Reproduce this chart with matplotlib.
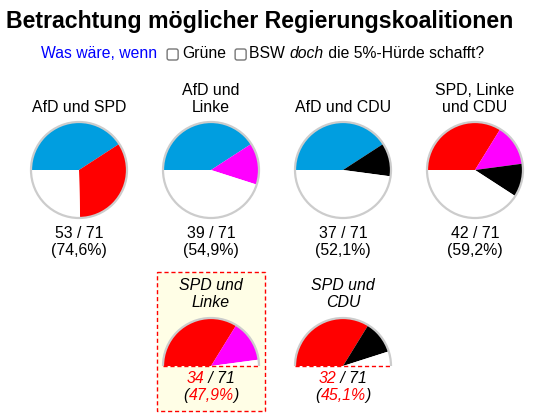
import matplotlib
matplotlib.use('Agg')
import matplotlib.pyplot as plt
from matplotlib.patches import Circle, Arc, Rectangle, FancyBboxPatch

W, H = 552, 416
TOTAL = 71

parties = ['AfD', 'SPD', 'Linke', 'CDU']
seats = [29, 24, 10, 8]
party_colors = ['#009ee0', '#ff0000', '#ff00ff', '#000000']

coalition_names = ['AfD und SPD', 'AfD und\nLinke', 'AfD und CDU', 'SPD, Linke\nund CDU',
                   'SPD und\nLinke', 'SPD und\nCDU']
coalition_members = [['AfD', 'SPD'], ['AfD', 'Linke'], ['AfD', 'CDU'], ['SPD', 'Linke', 'CDU'],
                     ['SPD', 'Linke'], ['SPD', 'CDU']]
highlighted = 'SPD und\nLinke'

plt.rcParams['font.family'] = ['Liberation Sans', 'DejaVu Sans']

fig = plt.figure(figsize=(W / 100, H / 100), dpi=100)
ax = fig.add_axes([0, 0, 1, 1])
renderer = fig.canvas.get_renderer()


def rich_text(x, y, parts, ha='center', **kw):
    # parts: list of (string, color); 1 data unit == 1 pixel
    texts = [ax.text(0, y, s, color=c, ha='left', va='baseline', **kw) for s, c in parts]
    widths = [t.get_window_extent(renderer).width for t in texts]
    total = sum(widths)
    x0 = x - total / 2 if ha == 'center' else x
    for t, w in zip(texts, widths):
        t.set_x(x0)
        x0 += w
    return x0


def checkbox(x):
    ax.add_patch(FancyBboxPatch((x, 49), 11, 11, boxstyle='round,pad=0,rounding_size=2',
                                facecolor='white', edgecolor='#767676', lw=1))
    return x + 11


# title / subtitle
ax.text(260, 28, 'Betrachtung möglicher Regierungskoalitionen', ha='center', va='baseline',
        fontsize=16.7, fontweight='bold')
fs_sub = 11.3
x = rich_text(41, 58, [('Was wäre, wenn', '#0000ff')], ha='left', fontsize=fs_sub)
x = checkbox(x + 10)
x = rich_text(x + 4, 58, [('Grüne', 'black')], ha='left', fontsize=fs_sub)
x = checkbox(x + 9)
x = rich_text(x + 3, 58, [('BSW ', 'black')], ha='left', fontsize=fs_sub)
x = rich_text(x, 58, [('doch', 'black')], ha='left', fontsize=fs_sub, style='italic')
rich_text(x, 58, [(' die 5%-Hürde schafft?', 'black')], ha='left', fontsize=fs_sub)

# layout
top_x = [79, 211, 343, 475]
bottom_x = [211, 343]
R = 48
majority = TOTAL // 2 + 1

full = []
half = []
for name, members in zip(coalition_names, coalition_members):
    n = sum(seats[parties.index(m)] for m in members)
    (full if n >= majority else half).append((name, members, n))

label_kw = dict(fontsize=11.4, ha='center', va='baseline')

for (name, members, n), cx in zip(full, top_x):
    cy = 170
    vals = [seats[parties.index(m)] for m in members] + [TOTAL - n]
    cols = [party_colors[parties.index(m)] for m in members] + ['white']
    ax.pie(vals, colors=cols, center=(cx, cy), radius=R, startangle=180, counterclock=True,
           wedgeprops=dict(linewidth=0), frame=True)
    ax.add_patch(Circle((cx, cy), R, fill=False, edgecolor='#cccccc', lw=1.6))
    lines = name.split('\n')
    for i, ln in enumerate(reversed(lines)):
        ax.text(cx, 112 - 17 * i, ln, **label_kw)
    ax.text(cx, 238, f'{n} / {TOTAL}', **label_kw)
    ax.text(cx, 255, f'({n / TOTAL * 100:.1f}%)'.replace('.', ','), **label_kw)

for (name, members, n), cx in zip(half, bottom_x):
    cy = 366
    if name == highlighted:
        ax.add_patch(Rectangle((cx - 54, 272), 108, 139, facecolor='#fffee6', edgecolor='#ff0000',
                               lw=1, ls=(0, (3, 2)), zorder=0))
    vals = [seats[parties.index(m)] for m in members] + [TOTAL / 2 - n, TOTAL / 2]
    cols = [party_colors[parties.index(m)] for m in members] + ['white', 'none']
    ax.pie(vals, colors=cols, center=(cx, cy), radius=R, startangle=180, counterclock=True,
           wedgeprops=dict(linewidth=0), frame=True)
    ax.add_patch(Arc((cx, cy), 2 * R, 2 * R, theta1=180, theta2=360, edgecolor='#cccccc', lw=1.6))
    ax.plot([cx - R, cx + R], [cy, cy], color='#ff0000', lw=1, ls=(0, (3, 2)))
    lines = name.split('\n')
    for i, ln in enumerate(reversed(lines)):
        ax.text(cx, 307 - 17 * i, ln, style='italic', **label_kw)
    rich_text(cx, 383, [(str(n), '#ff0000'), (f' / {TOTAL}', 'black')], fontsize=11.4, style='italic')
    pct = f'{n / TOTAL * 100:.1f}%'.replace('.', ',')
    rich_text(cx, 400, [('(', 'black'), (pct, '#ff0000'), (')', 'black')], fontsize=11.4, style='italic')

ax.set_xlim(0, W)
ax.set_ylim(H, 0)
ax.set_aspect('equal')
ax.axis('off')

fig.savefig('out.png', dpi=100)
